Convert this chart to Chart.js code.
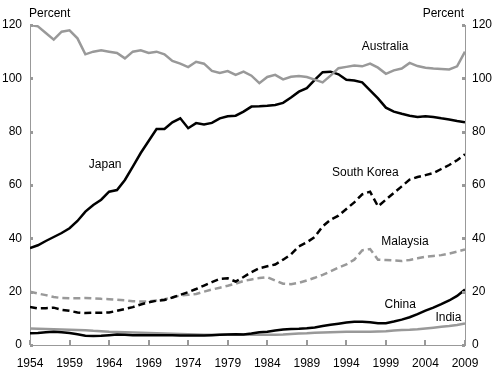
<!DOCTYPE html>
<html>
<head>
<meta charset="utf-8">
<script src="https://cdn.jsdelivr.net/npm/chart.js@4/dist/chart.umd.min.js"></script>
<style>
  html, body { margin: 0; padding: 0; background: #fff; }
  #wrap { width: 500px; height: 375px; position: relative; }
</style>
</head>
<body>
<div id="wrap"><canvas id="chart"></canvas></div>
<script>
// yearly values, 1954-2009 (percent)
const years = [];
for (let y = 1954; y <= 2009; y++) years.push(y);

const australia = [120, 119.5, 117, 114.5, 117.5, 118, 115, 109, 110, 110.5,
  110, 109.5, 107.5, 110, 110.5, 109.5, 110, 109, 106.5, 105.5,
  104.2, 106.2, 105.5, 102.8, 102, 102.7, 101.3, 102.5, 101, 98.2,
  100.5, 101.3, 99.6, 100.6, 100.9, 100.5, 99.5, 98.5, 101, 103.8,
  104.3, 104.8, 104.5, 105.5, 104, 101.7, 103, 103.7, 105.8, 104.6,
  104, 103.7, 103.5, 103.3, 104.5, 110];

const japan = [36.3, 37.4, 39, 40.5, 42, 43.8, 46.5, 50, 52.5, 54.5,
  57.5, 58.1, 61.9, 66.9, 72, 76.5, 81, 81, 83.5, 85,
  81.3, 83.2, 82.7, 83.3, 85, 85.8, 86, 87.5, 89.4, 89.5,
  89.7, 90, 90.8, 92.8, 95, 96.3, 99.4, 102.3, 102.5, 101.5,
  99.5, 99.2, 98.5, 95.5, 92.5, 89, 87.5, 86.7, 86, 85.5,
  85.8, 85.5, 85, 84.6, 84, 83.5];

const southKorea = [14.3, 13.7, 13.8, 14, 13.2, 12.8, 12.2, 12, 12.1, 12.1,
  12.2, 12.8, 13.5, 14.2, 15.2, 16, 16.6, 16.9, 17.8, 18.8,
  19.8, 21, 22.3, 23.6, 24.8, 25, 23.8, 25.5, 27.3, 28.8,
  29.5, 30.2, 32, 34, 37, 38.5, 40.5, 44.5, 47, 48.5,
  51, 53.5, 56.5, 57.5, 52, 54.5, 57, 59.5, 62, 63,
  63.7, 64.5, 66, 67.5, 69.3, 71.5];

const malaysia = [20, 19.3, 18.7, 18, 17.6, 17.5, 17.5, 17.6, 17.5, 17.3,
  17.2, 17, 16.8, 16.4, 16.3, 16.3, 16.7, 17.2, 17.8, 18.6,
  18.8, 19.1, 20, 20.8, 21.5, 22.2, 23, 24, 24.6, 25.1,
  25.4, 24.2, 23, 22.8, 23.3, 24.2, 25.2, 26.3, 27.6, 29,
  30.2, 32, 35.5, 36, 32, 31.9, 31.7, 31.5, 31.9, 32.5,
  33.1, 33.4, 33.7, 34.3, 35, 35.8];

const china = [4.4, 4.5, 4.8, 5, 4.8, 4.5, 4, 3.5, 3.4, 3.5,
  3.7, 3.9, 3.8, 3.7, 3.7, 3.7, 3.7, 3.7, 3.7, 3.6,
  3.6, 3.6, 3.6, 3.7, 3.8, 3.9, 4, 3.9, 4.3, 4.8,
  5, 5.4, 5.8, 6, 6.1, 6.3, 6.6, 7.1, 7.6, 8,
  8.4, 8.7, 8.7, 8.5, 8.2, 8.2, 8.8, 9.5, 10.4, 11.6,
  12.9, 14, 15.3, 16.7, 18.4, 20.8];

const india = [6.2, 6.1, 6, 5.9, 5.8, 5.7, 5.6, 5.5, 5.3, 5.2,
  5, 4.9, 4.8, 4.7, 4.6, 4.5, 4.4, 4.3, 4.2, 4.1,
  4, 3.9, 3.8, 3.8, 3.8, 3.9, 4, 3.9, 3.8, 3.8,
  3.8, 3.8, 3.9, 4.1, 4.3, 4.4, 4.6, 4.7, 4.8, 4.9,
  5, 5, 5, 5, 5.1, 5.2, 5.4, 5.6, 5.7, 5.9,
  6.2, 6.5, 6.8, 7.1, 7.5, 8.1];

const xTicks = [1954, 1959, 1964, 1969, 1974, 1979, 1984, 1989, 1994, 1999, 2004, 2009];
const yTicks = [0, 20, 40, 60, 80, 100, 120];

const GREY = '#999999';
const FONT = "'Liberation Sans', Arial, sans-serif";

function pts(vals) {
  return vals.map((v, i) => ({ x: years[i], y: v }));
}

// series labels, placed in data coordinates
const seriesLabels = [
  { text: 'Australia', x: 1998.9, y: 112 },
  { text: 'Japan', x: 1963.5, y: 67.5 },
  { text: 'South Korea', x: 1996.4, y: 64.5 },
  { text: 'Malaysia', x: 2001.4, y: 38.6 },
  { text: 'China', x: 2000.8, y: 15.2 },
  { text: 'India', x: 2006.9, y: 10.2 }
];

const extras = {
  id: 'extras',
  afterDraw(chart) {
    const c = chart.ctx;
    const xs = chart.scales.x;
    const yl = chart.scales.y;
    const area = chart.chartArea;
    c.save();
    // inward tick marks
    c.strokeStyle = GREY;
    c.lineWidth = 2;
    xTicks.forEach(t => {
      const px = Math.round(xs.getPixelForValue(t));
      c.beginPath();
      c.moveTo(px, area.bottom);
      c.lineTo(px, area.bottom - 5);
      c.stroke();
    });
    c.fillStyle = GREY;
    yTicks.forEach(t => {
      const py = Math.round(yl.getPixelForValue(t));
      c.fillRect(area.left, py - 1, 3, 3);
      c.fillRect(area.right - 3, py - 1, 3, 3);
    });
    // unit labels
    c.fillStyle = '#000';
    c.font = '12px ' + FONT;
    c.textBaseline = 'middle';
    c.textAlign = 'left';
    c.fillText('Percent', 29, 14);
    c.textAlign = 'right';
    c.fillText('Percent', 464, 14);
    // series labels
    c.textAlign = 'center';
    seriesLabels.forEach(l => {
      c.fillText(l.text, xs.getPixelForValue(l.x), yl.getPixelForValue(l.y));
    });
    c.restore();
  }
};

const axisFont = { family: FONT, size: 12 };
const noGrid = { display: false, drawTicks: false, tickLength: 0 };

new Chart(document.getElementById('chart'), {
  type: 'line',
  data: {
    datasets: [
      { label: 'Australia', data: pts(australia), borderColor: GREY, borderWidth: 2.5 },
      { label: 'Japan', data: pts(japan), borderColor: '#000', borderWidth: 2.5 },
      { label: 'South Korea', data: pts(southKorea), borderColor: '#000', borderWidth: 2.5, borderDash: [7, 4] },
      { label: 'Malaysia', data: pts(malaysia), borderColor: GREY, borderWidth: 2.5, borderDash: [7, 4] },
      { label: 'China', data: pts(china), borderColor: '#000', borderWidth: 2.5 },
      { label: 'India', data: pts(india), borderColor: GREY, borderWidth: 2.5 }
    ]
  },
  options: {
    responsive: true,
    maintainAspectRatio: false,
    animation: false,
    layout: { padding: { top: 25, left: 0, right: 0, bottom: 0 } },
    elements: { point: { radius: 0 }, line: { tension: 0, fill: false } },
    plugins: { legend: { display: false }, tooltip: { enabled: false } },
    scales: {
      x: {
        type: 'linear',
        min: 1954,
        max: 2009,
        afterFit: s => { s.height = 30; },
        afterBuildTicks: s => { s.ticks = xTicks.map(v => ({ value: v })); },
        grid: noGrid,
        border: { display: true, color: GREY, width: 1 },
        ticks: { color: '#000', font: axisFont, padding: 11, maxRotation: 0, autoSkip: false,
          callback: v => String(v) }
      },
      y: {
        position: 'left',
        min: 0,
        max: 120,
        afterFit: s => { s.width = 30; },
        afterBuildTicks: s => { s.ticks = yTicks.map(v => ({ value: v })); },
        grid: noGrid,
        border: { display: true, color: GREY, width: 1 },
        ticks: { color: '#000', font: axisFont, padding: 8 }
      },
      y2: {
        position: 'right',
        min: 0,
        max: 120,
        afterFit: s => { s.width = 35; },
        afterBuildTicks: s => { s.ticks = yTicks.map(v => ({ value: v })); },
        grid: noGrid,
        border: { display: true, color: GREY, width: 1 },
        ticks: { color: '#000', font: axisFont, padding: 7 }
      }
    }
  },
  plugins: [extras]
});
</script>
</body>
</html>
